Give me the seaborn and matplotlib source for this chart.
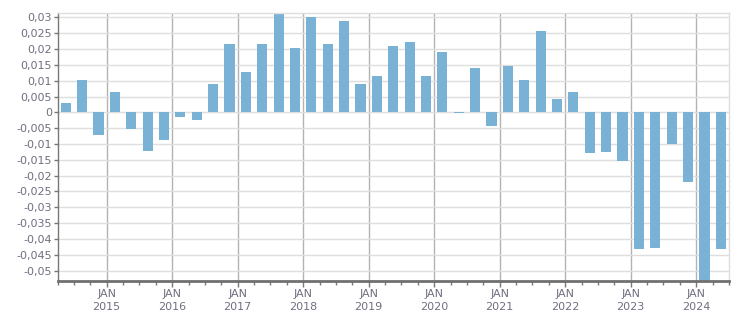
import matplotlib
matplotlib.use("Agg")
import matplotlib.pyplot as plt
import seaborn as sns
import numpy as np
import pandas as pd
from matplotlib.ticker import FuncFormatter, FixedLocator

# Quarterly values, Q2 2014 .. Q2 2024
quarters = [f"{y}Q{q}" for y in range(2014, 2025) for q in range(1, 5)][1:42]
values = [
    0.0030, 0.0102, -0.0072, 0.0064,            # 2014 Q2..2015 Q1
    -0.0053, -0.0122, -0.0087, -0.0015,         # 2015 Q2..2016 Q1
    -0.0024, 0.0090, 0.0216, 0.0127,            # 2016 Q2..2017 Q1
    0.0216, 0.0311, 0.0203, 0.0301,             # 2017 Q2..2018 Q1
    0.0216, 0.0288, 0.0090, 0.0115,             # 2018 Q2..2019 Q1
    0.0210, 0.0222, 0.0115, 0.0191,             # 2019 Q2..2020 Q1
    -0.0002, 0.0140, -0.0043, 0.0146,           # 2020 Q2..2021 Q1
    0.0102, 0.0257, 0.0042, 0.0064,             # 2021 Q2..2022 Q1
    -0.0128, -0.0125, -0.0154, -0.0432,         # 2022 Q2..2023 Q1
    -0.0428, -0.0100, -0.0220, -0.0560,         # 2023 Q2..2024 Q1
    -0.0432,                                    # 2024 Q2
]
years = list(range(2015, 2025))
year_labels = [f"JAN\n{y}" for y in years]

df = pd.DataFrame({"quarter": quarters, "value": values})

sns.set_theme(style="white")
plt.rcParams["font.family"] = ["DejaVu Sans"]

fig = plt.figure(figsize=(7.51, 3.13), dpi=100)
ax = fig.add_axes([57.5 / 751, 1 - 280.7 / 313, (729 - 57.5) / 751, (280.7 - 13.3) / 313])

bar_color = "#79b2d4"
sns.barplot(data=df, x="quarter", y="value", order=quarters, color=bar_color,
            saturation=1, width=0.62, ax=ax, zorder=3, linewidth=0, edgecolor="none")

n = len(quarters)
ax.set_xlim(-0.5, n - 0.5)
ax.set_ylim(-0.0532, 0.0313)

# x ticks: quarter boundaries; major at January
jan_pos = [quarters.index(f"{y}Q1") - 0.5 for y in years]
minor_pos = [i - 0.5 for i in range(n + 1)]
ax.xaxis.set_major_locator(FixedLocator(jan_pos))
ax.set_xticklabels(year_labels)
ax.xaxis.set_minor_locator(FixedLocator([p for p in minor_pos if p not in jan_pos]))

yt = np.round(np.arange(-0.05, 0.0301, 0.005), 3)
ax.set_yticks(yt)

def fmt(v, pos):
    if abs(v) < 1e-9:
        return "0"
    s = f"{v:.3f}".rstrip("0")
    return s.replace(".", ",")

ax.yaxis.set_major_formatter(FuncFormatter(fmt))

txt_color = "#6f6f80"
ax.tick_params(axis="y", which="major", direction="out", length=3, width=1,
               color="#777777", labelsize=8, labelcolor=txt_color, pad=1, left=True)
ax.tick_params(axis="x", which="major", direction="out", length=4, width=1,
               color="#777777", labelsize=8, labelcolor=txt_color, pad=2, bottom=True)
ax.tick_params(axis="x", which="minor", direction="out", length=3, width=1,
               color="#777777", bottom=True)
for lab in ax.get_xticklabels():
    lab.set_linespacing(1.35)

ax.set_xlabel("")
ax.set_ylabel("")

ax.grid(False)
ax.yaxis.grid(True, color="#dedede", linewidth=1, zorder=0)
ax.xaxis.grid(True, which="major", color="#b3b3b3", linewidth=1, zorder=1)
ax.set_axisbelow(True)

ax.spines["left"].set_color("#777777")
ax.spines["left"].set_linewidth(1)
ax.spines["bottom"].set_color("#707070")
ax.spines["bottom"].set_linewidth(2)
ax.spines["top"].set_color("#dedede")
ax.spines["top"].set_linewidth(1)
ax.spines["right"].set_color("#dedede")
ax.spines["right"].set_linewidth(1)
for s in ax.spines.values():
    s.set_visible(True)
    s.set_zorder(4)

fig.savefig("out.png", dpi=100)
